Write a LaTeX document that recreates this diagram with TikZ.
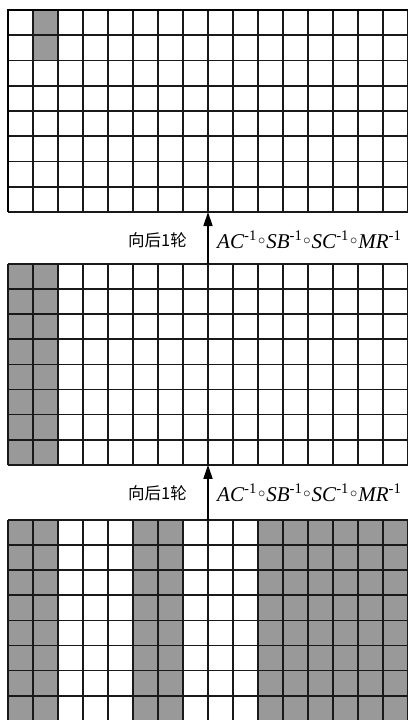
\documentclass[tikz,border=0pt]{standalone}
\usepackage{fontspec}
\setmainfont{Liberation Serif}
\newfontfamily\cjk{Noto Sans CJK SC}
\usetikzlibrary{arrows.meta}
\definecolor{cellgray}{RGB}{153,153,153}
\newcommand{\ginv}{\textsuperscript{\upshape -1}}
\newcommand{\gcirc}{\kern0.05em\raisebox{0.17em}{$\scriptstyle\circ$}\kern0.05em}
\newcommand{\gformula}{\textit{AC}\ginv\gcirc\textit{SB}\ginv\gcirc\textit{SC}\ginv\gcirc\textit{MR}\ginv}
\begin{document}
\begin{tikzpicture}[x=1pt,y=-1pt,
  gridline/.style={line width=1.7pt,draw=black!90},
  border/.style={line width=2.2pt,draw=black},
  lbl/.style={inner sep=0pt,font=\cjk\fontsize{16.5}{16.5}\selectfont},
  formula/.style={inner sep=0pt,font=\fontsize{21}{21}\selectfont},
  uparrow/.style={line width=1.5pt,draw=black,-{Triangle[length=14pt,width=9pt]}}]
\useasboundingbox (0,0) rectangle (407,720);
% grid 1
\fill[cellgray] (33,10) rectangle (58,60.5);
\foreach \i in {0,...,16} \draw[gridline] (8+25*\i,10) -- (8+25*\i,212);
\foreach \j in {0,...,8} \draw[gridline] (8,10+25.25*\j) -- (408,10+25.25*\j);
\draw[border] (8,212) -- (8,10) -- (408,10);
% grid 2
\fill[cellgray] (8,264) rectangle (58,464.8);
\foreach \i in {0,...,16} \draw[gridline] (8+25*\i,264) -- (8+25*\i,464.8);
\foreach \j in {0,...,8} \draw[gridline] (8,264+25.1*\j) -- (408,264+25.1*\j);
% grid 3
\fill[cellgray] (8,520) rectangle (58,720.8);
\fill[cellgray] (133,520) rectangle (183,720.8);
\fill[cellgray] (258,520) rectangle (408,720.8);
\foreach \i in {0,...,16} \draw[gridline] (8+25*\i,520) -- (8+25*\i,720.8);
\foreach \j in {0,...,8} \draw[gridline] (8,520+25.1*\j) -- (408,520+25.1*\j);
% arrows
\coordinate (g1b) at (208,212);
\coordinate (g2t) at (208,264);
\coordinate (g2b) at (208,464.8);
\coordinate (g3t) at (208,520);
\draw[uparrow] (g2t) -- (g1b);
\draw[uparrow] (g3t) -- (g2b);
% labels
\node[lbl,anchor=east] (l1) at (187,240) {向后1轮};
\node[formula,anchor=west] (f1) at (217,240) {\gformula};
\node[lbl,anchor=east] (l2) at (187,493) {向后1轮};
\node[formula,anchor=west] (f2) at (217,493) {\gformula};
\end{tikzpicture}
\end{document}
